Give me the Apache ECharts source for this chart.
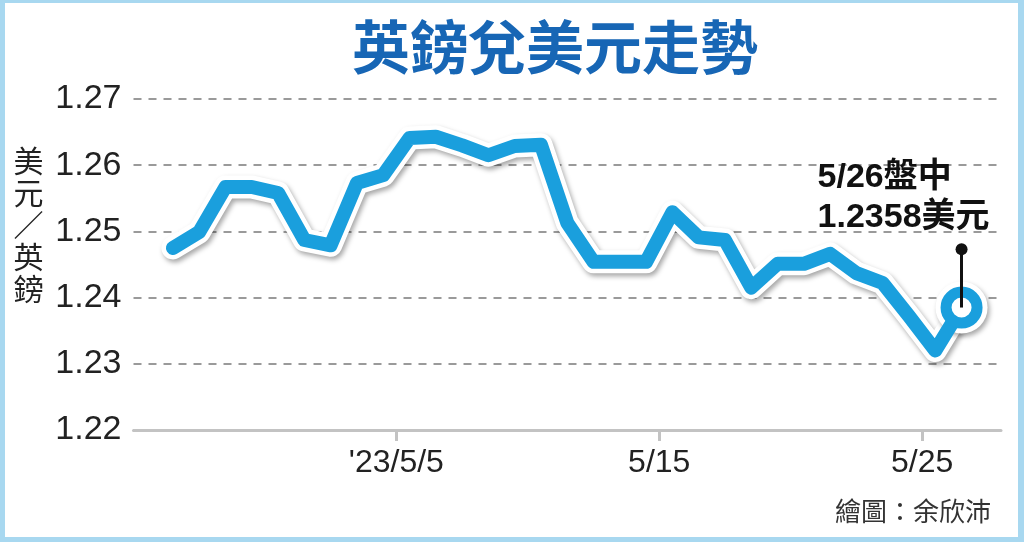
<!DOCTYPE html>
<html>
<head>
<meta charset="utf-8">
<script src="https://cdn.jsdelivr.net/npm/echarts@6/dist/echarts.min.js"></script>
<style>
  html, body { margin: 0; padding: 0; background: #fff; }
  #chart { position: absolute; left: 0; top: 0; width: 1024px; height: 542px; }
  #frame {
    position: absolute; left: 0; top: 0; width: 1024px; height: 542px;
    box-sizing: border-box; pointer-events: none;
    border-style: solid; border-color: #a8d8f0;
    border-width: 3px 6px 5px 5px;
  }
</style>
</head>
<body>
<div id="chart"></div>
<div id="frame"></div>
<script>
const title = '英鎊兌美元走勢';
const credit = '繪圖：余欣沛';
// 每日收盤 (美元/英鎊)
const dates = [
  '4/26', '4/27', '4/28', '4/29', '4/30', '5/1', '5/2', '5/3', '5/4', '5/5',
  '5/6', '5/7', '5/8', '5/9', '5/10', '5/11', '5/12', '5/13', '5/14', '5/15',
  '5/16', '5/17', '5/18', '5/19', '5/20', '5/21', '5/22', '5/23', '5/24', '5/25',
  '5/26'
];
const rates = [
  1.2475, 1.2499, 1.2567, 1.2567, 1.2558, 1.2487, 1.2479, 1.2573, 1.2585, 1.2641,
  1.2643, 1.2630, 1.2615, 1.2629, 1.2631, 1.2513, 1.2454, 1.2454, 1.2454, 1.2529,
  1.2491, 1.2487, 1.2415, 1.2451, 1.2451, 1.2466, 1.2437, 1.2422, 1.2372, 1.2320,
  1.2385
];
const tickLabels = { '5/5': "'23/5/5", '5/15': '5/15', '5/25': '5/25' };
const pinTop = 1.2473;
const noteLines = ['5/26盤中', '1.2358美元'];

const blue = '#1a9fdd';
const lastIdx = rates.length - 1;
const lastDate = dates[lastIdx];

// one empty day on each side so the line sits inside the axis
const axisDates = ['4/25', ...dates, '5/27'];
const padded = (arr) => ['-', ...arr, '-'];
// day boundaries (start of each day) for the tick axis
const dayStarts = [...axisDates, '5/28'];

const isTick = (i, v) => v in tickLabels;

const option = {
  animation: false,
  title: [
    {
      text: title,
      left: 550,
      top: 13,
      textAlign: 'center',
      textStyle: {
        fontFamily: 'Noto Sans CJK TC',
        fontWeight: 'bold',
        fontSize: 58,
        color: '#1766b5'
      }
    },
    {
      text: credit,
      right: 28,
      top: 493,
      textStyle: {
        fontFamily: 'Noto Sans CJK TC',
        fontWeight: 'normal',
        fontSize: 26,
        color: '#333'
      }
    }
  ],
  grid: { left: 133.5, right: 23, top: 99, bottom: 112 },
  xAxis: [
    {
      type: 'category',
      data: axisDates,
      boundaryGap: true,
      axisLine: { show: true, lineStyle: { color: '#c3c3c3', width: 3 } },
      axisTick: { show: false },
      axisLabel: { show: false },
      splitLine: { show: false }
    },
    {
      type: 'category',
      position: 'bottom',
      offset: 0,
      data: dayStarts,
      boundaryGap: false,
      axisLine: { show: false },
      axisTick: {
        show: true,
        interval: isTick,
        length: 11,
        lineStyle: { color: '#c3c3c3', width: 3 }
      },
      axisLabel: {
        interval: isTick,
        formatter: (v) => tickLabels[v] || '',
        fontFamily: 'Liberation Sans',
        fontSize: 32,
        color: '#222',
        margin: 17
      },
      splitLine: { show: false }
    }
  ],
  yAxis: {
    type: 'value',
    min: 1.22,
    max: 1.27,
    interval: 0.01,
    // blank last line lifts the stacked name above the middle
    name: '{n|美\n元\n／\n英\n鎊}\n{g|}',
    nameLocation: 'middle',
    nameRotate: 0,
    nameGap: 90,
    nameTextStyle: {
      rich: {
        n: {
          fontFamily: 'Noto Sans CJK TC',
          fontSize: 30,
          lineHeight: 32,
          color: '#222'
        },
        g: { lineHeight: 80 }
      }
    },
    axisLine: { show: false },
    axisTick: { show: false },
    axisLabel: {
      formatter: (v) => v.toFixed(2),
      fontFamily: 'Liberation Sans',
      fontSize: 34,
      color: '#222',
      margin: 12
    },
    splitLine: {
      lineStyle: { color: '#9a9a9a', width: 2, type: [8, 7] }
    }
  },
  series: [
    {
      // white outline with soft shadow
      type: 'line',
      silent: true,
      data: padded(rates.map((v, i) => i === lastIdx
        ? { value: v, symbol: 'circle', symbolSize: 52, itemStyle: { color: '#fff' } }
        : v)),
      symbol: 'none',
      lineStyle: {
        color: '#fff', width: 23, join: 'round', cap: 'round',
        shadowColor: 'rgba(0,0,0,0.35)', shadowBlur: 5, shadowOffsetX: 2, shadowOffsetY: 3
      },
      itemStyle: {
        color: '#fff',
        shadowColor: 'rgba(0,0,0,0.35)', shadowBlur: 5, shadowOffsetX: 2, shadowOffsetY: 3
      },
      z: 2
    },
    {
      type: 'line',
      silent: true,
      data: padded(rates.map((v, i) => i === lastIdx
        ? { value: v, symbol: 'circle', symbolSize: 31,
            itemStyle: { color: '#fff', borderColor: blue, borderWidth: 11 } }
        : v)),
      symbol: 'none',
      lineStyle: { color: blue, width: 14, join: 'round', cap: 'round' },
      z: 3
    },
    {
      // 5/26 pin and note, on its own layer above the ring
      type: 'line',
      silent: true,
      data: [],
      zlevel: 1,
      markLine: {
        silent: true,
        zlevel: 1,
        symbol: ['none', 'none'],
        label: { show: false },
        lineStyle: { color: '#111', width: 3, type: 'solid' },
        data: [[
          { coord: [lastDate, rates[lastIdx]] },
          { coord: [lastDate, pinTop] }
        ]]
      },
      markPoint: {
        silent: true,
        zlevel: 1,
        symbol: 'circle',
        symbolSize: 12,
        itemStyle: { color: '#111' },
        label: {
          show: true,
          position: [-138, -86],
          align: 'left',
          verticalAlign: 'top',
          formatter: `{a|${noteLines[0]}}\n{a|${noteLines[1]}}`,
          rich: {
            a: {
              fontFamily: 'Liberation Sans, Noto Sans CJK TC',
              fontWeight: 'bold',
              fontSize: 34,
              lineHeight: 40,
              color: '#111'
            }
          }
        },
        data: [{ coord: [lastDate, pinTop] }]
      }
    }
  ]
};

const chart = echarts.init(document.getElementById('chart'));
chart.setOption(option);
</script>
</body>
</html>
